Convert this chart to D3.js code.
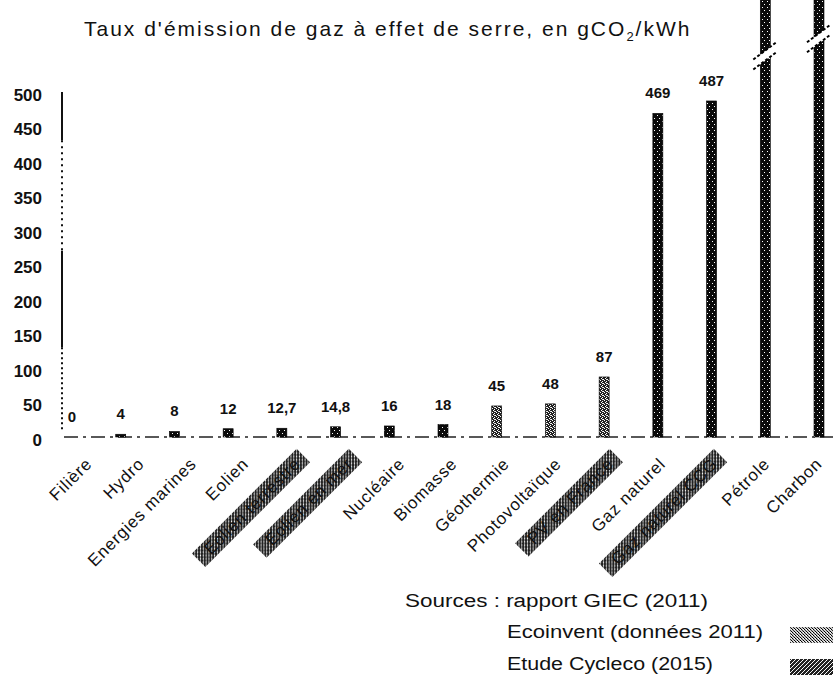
<!DOCTYPE html>
<html><head><meta charset="utf-8">
<script src="https://cdn.jsdelivr.net/npm/d3@7"></script>
<style>
body{margin:0;background:#fff}
svg{display:block}
text{font-family:"Liberation Sans",Arial,sans-serif;fill:#111}
</style>
</head><body>
<svg id="c" width="833" height="693"></svg>
<script>
// ---- data ----
const categories = ["Filière","Hydro","Energies marines","Eolien","Eolien terrestre","Eolien en mer","Nucléaire","Biomasse","Géothermie","Photovoltaïque","PV en France","Gaz naturel","Gaz naturel CCG","Pétrole","Charbon"];
const values = [0, 4, 8, 12, 12.7, 14.8, 16, 18, 45, 48, 87, 469, 487, 840, 1001];
const valueLabels = ["0","4","8","12","12,7","14,8","16","18","45","48","87","469","487","840","1001"];
const sources = ["GIEC","GIEC","GIEC","GIEC","Cycleco","Cycleco","GIEC","GIEC","GIEC","GIEC","Ecoinvent","GIEC","Ecoinvent","GIEC","GIEC"];
const yTicks = [0, 50, 100, 150, 200, 250, 300, 350, 400, 450, 500];
const titleMain = "Taux d'émission de gaz à effet de serre, en gCO";
const titleSub = "2";
const titleEnd = "/kWh";
const sourceText = "Sources : rapport GIEC (2011)";
const legendLabels = ["Ecoinvent  (données 2011)", "Etude Cycleco (2015)"];

// ---- setup ----
const svg = d3.select("#c");
const defs = svg.append("defs");

function pattern(id, w, h, bg, dots) {
  const p = defs.append("pattern").attr("id", id).attr("patternUnits","userSpaceOnUse").attr("width", w).attr("height", h);
  p.append("rect").attr("width", w).attr("height", h).attr("fill", bg);
  dots.forEach(d => p.append("rect").attr("x", d[0]).attr("y", d[1]).attr("width", 1).attr("height", 1).attr("fill", d[2]));
}
pattern("dark", 5, 6, "#0a0a0a", [[2,1,"#fff"],[4,4,"#fff"]]);
pattern("light", 4, 4, "#222", [[0,0,"#fff"],[2,1,"#fff"],[1,2,"#fff"],[3,3,"#fff"],[2,3,"#ddd"]]);
pattern("mid", 4, 4, "#222", [[0,0,"#fff"],[2,2,"#fff"],[1,3,"#eee"],[3,1,"#eee"]]);
pattern("leg", 3, 3, "#ccc", [[0,0,"#000"],[1,1,"#333"],[2,2,"#000"],[2,0,"#fff"]]);

const x = d3.scalePoint().domain(categories).range([67, 819]);
const xl = d3.scalePoint().domain(categories).range([93, 823]);
const y = d3.scaleLinear().domain([0, 500]).range([437, 92]);
const yMax = y.domain()[1];
const barW = 10;

const barFill = (c, i) => (values[i] > 30 && values[i] < 100) ? "url(#light)" : "url(#dark)";

// ---- title ----
const t = svg.append("text").attr("x", 84).attr("y", 36)
  .style("font-size","21px").style("letter-spacing","2px");
t.append("tspan").text(titleMain);
t.append("tspan").attr("dy", 5).style("font-size","13px").text(titleSub);
t.append("tspan").attr("dy", -5).text(titleEnd);

// ---- y axis ----
const yAxis = d3.axisLeft(y).tickValues(yTicks).tickSize(0).tickPadding(20).tickFormat(d3.format("d"));
const ga = svg.append("g").attr("transform","translate(62,3)").call(yAxis);
ga.select(".domain").remove();
ga.selectAll("text").style("font-family","'Liberation Sans',Arial,sans-serif")
  .style("font-size","17px").style("font-weight","bold").attr("fill","#111");

// axis line drawn in segments (solid / dotted like the scan)
const axSeg = [[500,430,"none"],[430,270,"2,4"],[270,130,"none"],[130,10,"2,3"]];
svg.append("g").selectAll("line").data(axSeg).join("line")
  .attr("x1",62).attr("x2",62).attr("y1",d=>y(d[0])).attr("y2",d=>y(d[1]))
  .attr("stroke","#111").attr("stroke-width",2).attr("stroke-dasharray",d=>d[2]);

// baseline
svg.append("line").attr("x1",64).attr("x2",833).attr("y1",y(0)).attr("y2",y(0))
  .attr("stroke","#222").attr("stroke-width",1.3).attr("stroke-dasharray","14,5,3,5");

// ---- bars ----
svg.append("g").selectAll("rect").data(categories).join("rect")
  .attr("x", c => x(c) - barW/2)
  .attr("y", (c,i) => y(values[i]))
  .attr("width", barW)
  .attr("height", (c,i) => y(0) - y(values[i]))
  .attr("fill", barFill)
  .attr("stroke","#000").attr("stroke-width",0.6);

// axis breaks for bars beyond the scale
const breakAt = {"Pétrole": 550, "Charbon": 575};
const gb = svg.append("g");
categories.forEach((c,i) => {
  if (values[i] <= yMax) return;
  const yb = y(breakAt[c]);
  const cx = x(c);
  gb.append("polygon")
    .attr("points", `${cx-9},${yb+10} ${cx+10},${yb-4} ${cx+10},${yb-14} ${cx-9},${yb}`)
    .attr("fill","#fff");
  gb.append("line").attr("x1",cx-12).attr("y1",yb+2).attr("x2",cx+12).attr("y2",yb-16)
    .attr("stroke","#000").attr("stroke-width",2).attr("stroke-dasharray","3,2");
  gb.append("line").attr("x1",cx-12).attr("y1",yb+12).attr("x2",cx+12).attr("y2",yb-6)
    .attr("stroke","#000").attr("stroke-width",2).attr("stroke-dasharray","3,2");
});

// ---- value labels (only those inside the visible scale) ----
svg.append("g").selectAll("text").data(categories.filter((c,i) => values[i] <= yMax)).join("text")
  .attr("x", c => x(c) + (c === "Filière" ? 5 : 0))
  .attr("y", c => y(values[categories.indexOf(c)]) - 15)
  .attr("text-anchor","middle")
  .style("font-size","15px").style("font-weight","bold")
  .text(c => valueLabels[categories.indexOf(c)]);

// ---- x labels ----
const gl = svg.append("g");
categories.forEach((c,i) => {
  const g = gl.append("g").attr("transform", `translate(${xl(c)},465) rotate(-45)`);
  const highlighted = sources[i] !== "GIEC";
  const txt = g.append("text").attr("text-anchor","end")
    .style("font-size","17px").style("letter-spacing","0.8px").text(c);
  if (highlighted) {
    const bb = txt.node().getBBox();
    g.insert("rect","text").attr("x", bb.x - 12).attr("y", -15).attr("width", bb.width + 20).attr("height", 19)
      .attr("fill","url(#mid)");
    txt.attr("fill","#000");
  }
});

// ---- sources / legend ----
svg.append("text").attr("x",405).attr("y",607).attr("textLength",303).attr("lengthAdjust","spacingAndGlyphs")
  .style("font-size","18px").text(sourceText);
const legW = [256, 206];
const legFill = ["url(#leg)", "url(#mid)"];
const lg = svg.append("g").selectAll("g").data(legendLabels).join("g")
  .attr("transform",(d,i)=>`translate(0,${638 + i*32})`);
lg.append("text").attr("x",507).attr("y",0)
  .attr("textLength",(d,i)=>legW[i]).attr("lengthAdjust","spacingAndGlyphs")
  .style("font-size","18px").text(d=>d);
lg.append("rect").attr("x",790).attr("y",-11).attr("width",45).attr("height",16)
  .attr("fill",(d,i)=>legFill[i]);
</script>
</body></html>
